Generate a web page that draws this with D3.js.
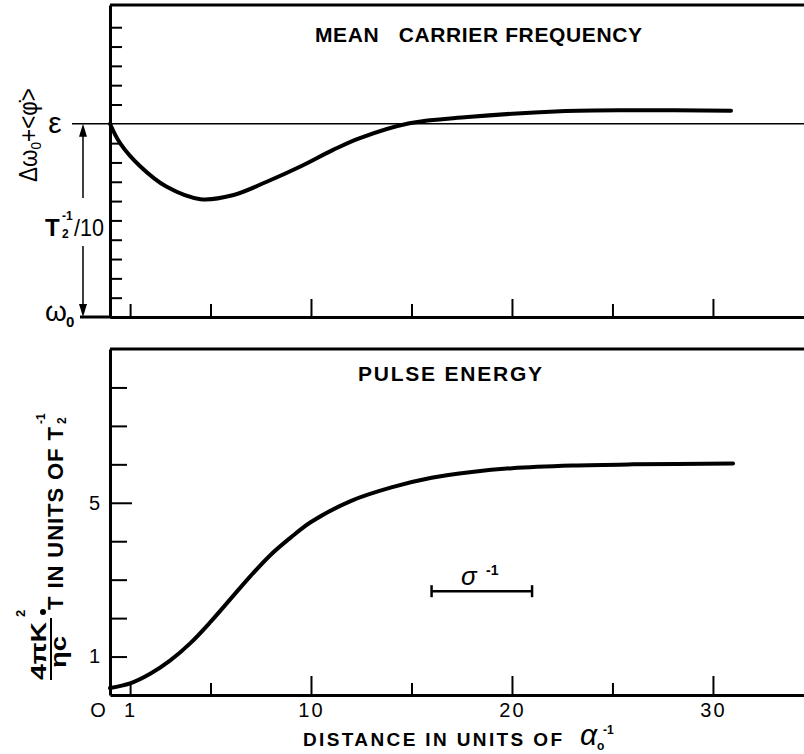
<!DOCTYPE html>
<meta charset="utf-8">
<style>
    body { margin: 0; background: #fff; }
    svg { display: block; font-family: "Liberation Sans", Arial, sans-serif; }
    .axis path, .axis line { stroke: #000; }
    .axis path { stroke-width: 3; }
    .axis line { stroke-width: 2; }
    .axis text { font-family: "Liberation Sans", Arial, sans-serif; font-size: 20px; fill: #000; letter-spacing: 2px; }
</style>
<svg width="804" height="754"></svg>
<script src="https://d3js.org/d3.v7.min.js"></script>
<script>
    // mean carrier frequency, in units of T2^-1/100 above w0 (eps = 10)
    var freqDist = [0, 0.5, 1.5, 2.8, 4.5, 6.1, 7.8, 9.5, 11.1, 12.4, 14.9, 17.8, 22.4, 26, 30.9];
    var freqVal = [10, 9.0, 7.8, 6.75, 6.1, 6.3, 7.0, 7.8, 8.65, 9.25, 10.03, 10.35, 10.65, 10.7, 10.68];
    // pulse energy, in units of T2^-1
    var energyDist = [0, 1, 2, 3, 4, 5, 6, 7, 8, 9, 10, 12, 14, 16, 18, 20, 23, 26, 31];
    var energyVal = [0.18, 0.3, 0.55, 0.9, 1.35, 1.9, 2.5, 3.1, 3.65, 4.1, 4.5, 5.05, 5.4, 5.65, 5.8, 5.9, 5.97, 6.0, 6.02];

    var xMajor = [10, 20, 30];
    var xMinor = [1, 5, 15, 25];
    var xLabels = [1, 10, 20, 30];
    var freqTicks = [0, 1, 2, 3, 4, 5, 6, 7, 8, 9, 11, 12, 13, 14, 15];
    var energyTicks = [1, 2, 3, 4, 5, 6, 7, 8];
    var energyLabels = [1, 5];
    var sigmaSpan = [16, 21], sigmaLevel = 2.7;
    var epsLevel = 10;

    var svg = d3.select("svg");
    var W = 804;

    var x = d3.scaleLinear().domain([0, 34.53]).range([110, W]);
    var yF = d3.scaleLinear().domain([0, 16.15]).range([317, 5]);
    var yE = d3.scaleLinear().domain([0, 9]).range([695, 349]);

    function frameLine(x1, y1, x2, y2, w) {
        svg.append("line").attr("x1", x1).attr("y1", y1).attr("x2", x2).attr("y2", y2)
            .attr("stroke", "#000").attr("stroke-width", w);
    }

    // ---------- top panel ----------
    frameLine(x(0), yF(16.15), W, yF(16.15), 3);
    frameLine(80, yF(0), x(0), yF(0), 3);
    // eps reference line
    frameLine(72, yF(epsLevel), W, yF(epsLevel), 1.5);

    svg.append("g").attr("class", "axis").attr("transform", "translate(0," + yF(0) + ")")
        .call(d3.axisBottom(x).tickValues(xMajor).tickSize(-18).tickSizeOuter(0).tickFormat(""));
    svg.append("g").attr("class", "axis").attr("transform", "translate(0," + yF(0) + ")")
        .call(d3.axisBottom(x).tickValues(xMinor).tickSize(-13).tickSizeOuter(0).tickFormat(""))
        .select(".domain").remove();
    svg.append("g").attr("class", "axis").attr("transform", "translate(" + x(0) + ",0)")
        .call(d3.axisLeft(yF).tickValues(freqTicks).tickSize(-12).tickSizeOuter(0).tickFormat(""));

    var line = d3.line().curve(d3.curveCatmullRom.alpha(0.5));
    svg.append("path")
        .attr("d", line(freqDist.map(function (d, i) { return [x(d), yF(freqVal[i])]; })))
        .attr("fill", "none").attr("stroke", "#000").attr("stroke-width", 4).attr("stroke-linecap", "round");

    svg.append("text").attr("x", 315).attr("y", 42).attr("font-size", 21).attr("font-weight", "bold")
        .attr("textLength", 327).attr("lengthAdjust", "spacing").text("MEAN\u00a0\u00a0\u00a0CARRIER FREQUENCY");

    // arrow between eps and w0
    var ax = 83;
    frameLine(ax, yF(epsLevel) + 8, ax, 198, 1.5);
    frameLine(ax, 246, ax, yF(0) - 8, 1.5);
    svg.append("path").attr("d", "M" + ax + "," + yF(epsLevel) + "l-4,13h8z");
    svg.append("path").attr("d", "M" + ax + "," + yF(0) + "l-4,-13h8z");

    svg.append("text").attr("x", 55).attr("y", yF(epsLevel) + 9).attr("text-anchor", "middle")
        .attr("font-size", 30).text("ε");
    svg.append("text").attr("x", 45).attr("y", 236).attr("font-size", 24).attr("font-weight", "bold").text("T");
    svg.append("text").attr("x", 62).attr("y", 238).attr("font-size", 12).attr("font-weight", "bold").text("2");
    svg.append("text").attr("x", 62).attr("y", 220).attr("font-size", 12).attr("font-weight", "bold").text("-1");
    svg.append("text").attr("x", 74).attr("y", 236).attr("font-size", 24).attr("textLength", 30)
        .attr("lengthAdjust", "spacingAndGlyphs").text("/10");
    svg.append("text").attr("x", 45).attr("y", 321).attr("font-size", 28).text("ω");
    svg.append("text").attr("x", 66).attr("y", 327).attr("font-size", 15).attr("font-weight", "bold").text("0");

    var lblTop = svg.append("text").attr("transform", "translate(37,182) rotate(-90)")
        .attr("font-size", 25).attr("textLength", 94).attr("lengthAdjust", "spacingAndGlyphs");
    lblTop.append("tspan").text("Δω");
    lblTop.append("tspan").attr("font-size", 15).attr("dy", 4).text("0");
    lblTop.append("tspan").attr("dy", -4).text("+<φ̇>");

    // ---------- bottom panel ----------
    frameLine(x(0), yE(9), W, yE(9), 3);

    svg.append("g").attr("class", "axis").attr("transform", "translate(0," + yE(0) + ")")
        .call(d3.axisBottom(x).tickValues(xMajor).tickSize(-19).tickSizeOuter(0).tickFormat(""));
    svg.append("g").attr("class", "axis").attr("transform", "translate(0," + yE(0) + ")")
        .call(d3.axisBottom(x).tickValues(xMinor).tickSize(-12).tickSizeOuter(0).tickFormat(""))
        .select(".domain").remove();
    svg.append("g").attr("class", "axis").attr("transform", "translate(0," + yE(0) + ")")
        .call(d3.axisBottom(x).tickValues(xLabels).tickSize(0).tickPadding(8))
        .select(".domain").remove();
    svg.append("text").attr("x", x(0) - 12).attr("y", 717).attr("text-anchor", "middle")
        .attr("font-size", 20).text("O");

    var leftE = svg.append("g").attr("class", "axis").attr("transform", "translate(" + x(0) + ",0)")
        .call(d3.axisLeft(yE).tickValues(energyTicks).tickSize(-17).tickSizeOuter(0).tickPadding(8)
            .tickFormat(function (d) { return energyLabels.indexOf(d) >= 0 ? d : ""; }));
    leftE.selectAll(".tick line").attr("x2", function (d) { return d === 5 ? 22 : 17; });

    svg.append("path")
        .attr("d", line(energyDist.map(function (d, i) { return [x(d), yE(energyVal[i])]; })))
        .attr("fill", "none").attr("stroke", "#000").attr("stroke-width", 4).attr("stroke-linecap", "round");

    svg.append("text").attr("x", 358).attr("y", 381).attr("font-size", 21).attr("font-weight", "bold")
        .attr("textLength", 184).attr("lengthAdjust", "spacing").text("PULSE ENERGY");

    // sigma^-1 scale bar
    var sy = yE(sigmaLevel);
    frameLine(x(sigmaSpan[0]), sy, x(sigmaSpan[1]), sy, 2.5);
    frameLine(x(sigmaSpan[0]), sy - 6, x(sigmaSpan[0]), sy + 6, 2.5);
    frameLine(x(sigmaSpan[1]), sy - 6, x(sigmaSpan[1]), sy + 6, 2.5);
    svg.append("text").attr("x", 461).attr("y", 585).attr("font-size", 26).attr("font-style", "italic").text("σ");
    svg.append("text").attr("x", 486).attr("y", 575).attr("font-size", 14).attr("font-weight", "bold").text("-1");

    // x axis title
    svg.append("text").attr("x", 303).attr("y", 746).attr("font-size", 19).attr("font-weight", "bold")
        .attr("textLength", 259).attr("lengthAdjust", "spacing").text("DISTANCE IN UNITS OF");
    svg.append("text").attr("x", 580).attr("y", 745).attr("font-size", 30).attr("font-style", "italic").text("α");
    svg.append("text").attr("x", 597).attr("y", 750).attr("font-size", 12).attr("font-weight", "bold").text("o");
    svg.append("text").attr("x", 603).attr("y", 734).attr("font-size", 12).attr("font-weight", "bold").text("-1");

    // rotated y title of bottom panel
    var g = svg.append("g").attr("transform", "translate(63,680) rotate(-90)");
    g.append("text").attr("x", 0).attr("y", -17).attr("font-size", 22).attr("font-weight", "bold")
        .attr("textLength", 58).attr("lengthAdjust", "spacingAndGlyphs").text("4πK");
    g.append("text").attr("x", 63).attr("y", -38).attr("font-size", 13).attr("font-weight", "bold").text("2");
    g.append("line").attr("x1", 0).attr("x2", 62).attr("y1", -12).attr("y2", -12)
        .attr("stroke", "#000").attr("stroke-width", 2);
    g.append("text").attr("x", 12).attr("y", 3).attr("font-size", 22).attr("font-weight", "bold")
        .attr("textLength", 32).attr("lengthAdjust", "spacingAndGlyphs").text("ηc");
    g.append("circle").attr("cx", 68).attr("cy", -20).attr("r", 3);
    g.append("text").attr("x", 70).attr("y", 0).attr("font-size", 22).attr("font-weight", "bold")
        .attr("textLength", 183).attr("lengthAdjust", "spacing").text("T IN UNITS OF T");
    g.append("text").attr("x", 256).attr("y", 3).attr("font-size", 12).attr("font-weight", "bold").text("2");
    g.append("text").attr("x", 256).attr("y", -18).attr("font-size", 12).attr("font-weight", "bold").text("-1");
</script>
